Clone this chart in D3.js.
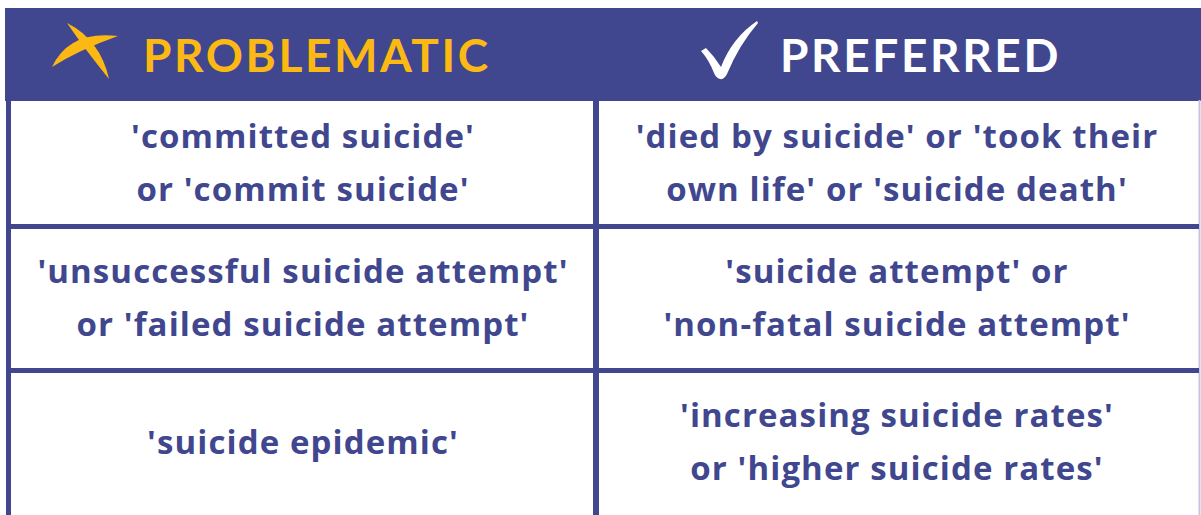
<!DOCTYPE html>
<html>
<head>
<meta charset="utf-8">
<script src="https://cdn.jsdelivr.net/npm/d3@7"></script>
<style>
  html, body { margin: 0; padding: 0; background: #ffffff; }
  svg { display: block; }
</style>
</head>
<body>
<div id="chart"></div>
<script>
// ---- data ----
const headers = ["PROBLEMATIC", "PREFERRED"];
const problematic = [
  ["'committed suicide'", "or 'commit suicide'"],
  ["'unsuccessful suicide attempt'", "or 'failed suicide attempt'"],
  ["'suicide epidemic'"]
];
const preferred = [
  ["'died by suicide' or 'took their", "own life' or 'suicide death'"],
  ["'suicide attempt' or", "'non-fatal suicide attempt'"],
  ["'increasing suicide rates'", "or 'higher suicide rates'"]
];

// ---- layout / style ----
const W = 1201, H = 515;
const navy = "#41478E";
const yellow = "#FDB913";
const font = "'Open Sans', Lato, sans-serif";
const hfont = "Lato, 'Open Sans', sans-serif";

const svg = d3.select("#chart").append("svg")
  .attr("width", W).attr("height", H);

svg.append("rect").attr("width", W).attr("height", H).attr("fill", "#fff");

const rowEdges = [101, 226.5, 370.5, 515];
const rowY = d3.scaleOrdinal().domain([0, 1, 2]).range([0, 1, 2].map(i => [rowEdges[i], rowEdges[i + 1]]));

// header band
svg.append("rect").attr("x", 5).attr("y", 8).attr("width", W - 5).attr("height", 93).attr("fill", navy);

// grid lines
svg.append("rect").attr("x", 6).attr("y", 100).attr("width", 5).attr("height", H - 100).attr("fill", navy);
svg.append("rect").attr("x", 593).attr("y", 100).attr("width", 6).attr("height", H - 100).attr("fill", navy);
svg.append("rect").attr("x", 1198.5).attr("y", 100).attr("width", 2).attr("height", H - 100).attr("fill", "#c3c5de");
[1, 2].forEach(i => {
  svg.append("rect").attr("x", 6).attr("y", rowEdges[i] - 2.5).attr("width", 1193).attr("height", 5).attr("fill", navy);
});

// header texts
const headerColors = [yellow, "#ffffff"];
const headerX = [143, 780];
svg.selectAll("text.hdr").data(headers).join("text")
  .attr("class", "hdr")
  .attr("x", (d, i) => headerX[i])
  .attr("y", 72)
  .attr("fill", (d, i) => headerColors[i])
  .attr("font-family", hfont)
  .attr("font-weight", 700)
  .attr("font-size", 46)
  .attr("letter-spacing", 2.6)
  .text(d => d);

// X icon (brush strokes)
function leaf(p0, c, p1, w) {
  const dx = p1[0] - p0[0], dy = p1[1] - p0[1];
  const len = Math.hypot(dx, dy);
  const nx = -dy / len * w, ny = dx / len * w;
  return `M${p0[0]},${p0[1]} Q${c[0] + nx},${c[1] + ny} ${p1[0]},${p1[1]} Q${c[0] - nx},${c[1] - ny} ${p0[0]},${p0[1]} Z`;
}
svg.append("path").attr("d", leaf([67, 23], [93, 45], [109, 79], 9)).attr("fill", yellow);
svg.append("path").attr("d", leaf([52, 67], [74, 40], [118, 36], 11)).attr("fill", yellow);

// check mark
svg.append("path")
  .attr("d", "M701,51 L706,48 Q714,56 721,67 Q732,38 757,21 L758,23 Q739,45 727,74 Q724,80 720,79 Q716,78 714,73 Q709,60 701,51 Z")
  .attr("fill", "#ffffff");

// body texts
const colCenters = [303, 897];
const lineGap = 53;
const cols = [problematic, preferred];
cols.forEach((col, ci) => {
  col.forEach((lines, ri) => {
    const [y0, y1] = rowY(ri);
    const mid = (y0 + y1) / 2;
    const first = mid - (lines.length - 1) * lineGap / 2 + 11;
    lines.forEach((t, li) => {
      svg.append("text")
        .attr("x", colCenters[ci])
        .attr("y", first + li * lineGap)
        .attr("text-anchor", "middle")
        .attr("fill", navy)
        .attr("font-family", font)
        .attr("font-weight", 700)
        .attr("font-size", 33)
        .attr("letter-spacing", 1.1)
        .text(t);
    });
  });
});
</script>
</body>
</html>
